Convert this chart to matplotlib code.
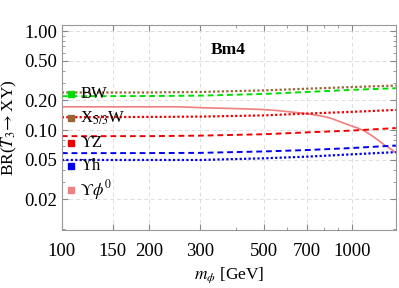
import matplotlib
matplotlib.use("Agg")
import matplotlib.pyplot as plt
from matplotlib.ticker import FixedLocator, NullFormatter, LogLocator

plt.rcParams['font.family'] = ['Liberation Serif', 'DejaVu Serif']
plt.rcParams['mathtext.fontset'] = 'stix'

m_main = [100, 200, 300, 500, 700, 1000, 1420]
br_bw = [0.220, 0.221, 0.223, 0.232, 0.243, 0.255, 0.265]
br_x53w = [0.240, 0.240, 0.243, 0.252, 0.262, 0.272, 0.282]
br_tz_dot = [0.135, 0.136, 0.137, 0.141, 0.147, 0.153, 0.160]
br_tz_dash = [0.087, 0.087, 0.088, 0.091, 0.095, 0.099, 0.105]
br_th_dash = [0.0586, 0.0587, 0.059, 0.061, 0.063, 0.066, 0.070]
br_th_dot = [0.050, 0.050, 0.050, 0.052, 0.054, 0.057, 0.060]
m_phi0 = [100, 255, 311, 400, 482, 550, 611, 670, 728, 807, 860, 909, 984, 1050,
          1109, 1160, 1200, 1250, 1300, 1360, 1420]
br_phi0 = [0.172, 0.172, 0.168, 0.165, 0.162, 0.158, 0.153, 0.149, 0.144, 0.137,
           0.130, 0.122, 0.112, 0.105, 0.098, 0.090, 0.084, 0.077, 0.0705, 0.065, 0.0595]

legend_labels = ['BW', r'X$_{5/3}$W', 'ϒZ', 'ϒh', r'ϒ$\phi^0$']
legend_colors = ['#00dd00', '#996633', '#ee0000', '#0000ee', '#f08080']

xticks = [100, 150, 200, 300, 500, 700, 1000]
yticks = [0.02, 0.05, 0.10, 0.20, 0.50, 1.00]

fig = plt.figure(figsize=(3.99, 2.88), dpi=100)
ax = fig.add_axes([0.155, 0.201, 0.837, 0.712])
ax.set_xscale('log')
ax.set_yscale('log')
ax.set_xlim(100, 1420)
ax.set_ylim(0.0098, 1.15)

ax.plot(m_main, br_x53w, color='#996633', ls=(0, (1, 1)), lw=1.6)
ax.plot(m_main, br_bw, color='#00dd00', ls=(0, (3, 2)), lw=1.4)
ax.plot(m_phi0, br_phi0, color='#f08080', ls='-', lw=1.2)
ax.plot(m_main, br_tz_dot, color='#ee0000', ls=(0, (1, 1)), lw=1.6)
ax.plot(m_main, br_tz_dash, color='#ee0000', ls=(0, (3, 2)), lw=1.4)
ax.plot(m_main, br_th_dash, color='#0000ee', ls=(0, (3, 2)), lw=1.4)
ax.plot(m_main, br_th_dot, color='#0000ee', ls=(0, (1, 1)), lw=1.6)

ax.xaxis.set_major_locator(FixedLocator(xticks))
ax.xaxis.set_minor_locator(LogLocator(base=10, subs=[1, 2, 3, 4, 5, 6, 7, 8, 9]))
ax.xaxis.set_minor_formatter(NullFormatter())
ax.set_xticklabels([str(v) for v in xticks])
ax.yaxis.set_major_locator(FixedLocator(yticks))
ax.yaxis.set_minor_locator(LogLocator(base=10, subs=[1, 2, 3, 4, 5, 6, 7, 8, 9]))
ax.yaxis.set_minor_formatter(NullFormatter())
ax.set_yticklabels(['%.2f' % v for v in yticks])

ax.grid(True, which='major', color='#dddddd', ls=(0, (4, 3)), lw=0.7)
ax.tick_params(which='both', direction='in', top=True, right=True, colors='#888888',
               labelcolor='black', labelsize=13.5)
ax.tick_params(which='major', length=4)
ax.tick_params(which='minor', length=2)
for s in ax.spines.values():
    s.set_color('#999999')
ax.tick_params(axis='x', pad=9)

ax.set_xlabel(r'$m_\phi$ [GeV]', fontsize=12.5)
ax.set_ylabel(r'BR($T_3\!\to$XY)', fontsize=12.5)

ax.text(0.446, 0.86, 'Bm4', transform=ax.transAxes, fontsize=12.5, fontweight='bold')

ytext = [0.663, 0.546, 0.424, 0.312, 0.195]
for lab, col, yy in zip(legend_labels, legend_colors, ytext):
    ax.plot([0.028], [yy], marker='s', ms=5, color=col, transform=ax.transAxes, clip_on=False)
    ax.text(0.055, yy, lab, transform=ax.transAxes, fontsize=12, va='center')

fig.savefig('out.png', dpi=100)
